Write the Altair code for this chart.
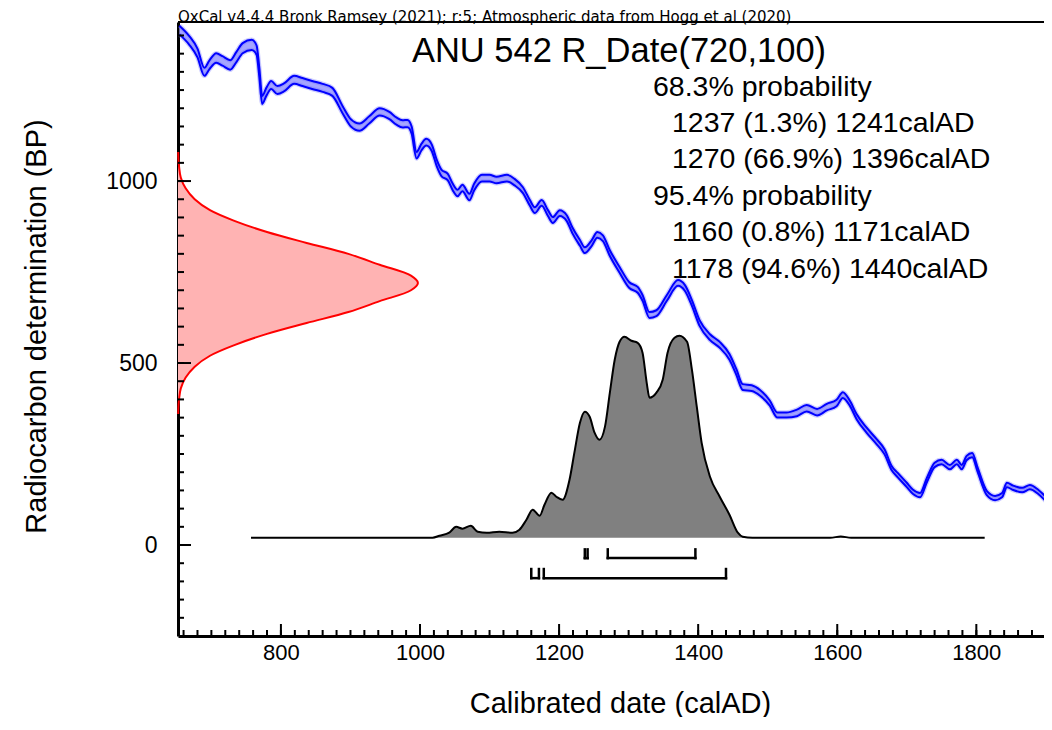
import altair as alt
import pandas as pd

FONT = "Liberation Sans"

# ---------------- data ----------------
header = "OxCal v4.4.4 Bronk Ramsey (2021); r:5; Atmospheric data from Hogg et al (2020)"
title = "ANU 542 R_Date(720,100)"
summary = [
    ("68.3% probability", 0),
    ("1237 (1.3%) 1241calAD", 1),
    ("1270 (66.9%) 1396calAD", 1),
    ("95.4% probability", 0),
    ("1160 (0.8%) 1171calAD", 1),
    ("1178 (94.6%) 1440calAD", 1),
]

x_domain = [652, 1897.3]
y_domain = [-250, 1437]
x_major = [800, 1000, 1200, 1400, 1600, 1800]
x_minor = list(range(660, 1897, 20))
y_major = [0, 500, 1000]
y_minor = list(range(-200, 1437, 50))

# calibration curve (cal AD, 14C BP, 1 sigma)
cal_year = [654, 668, 680, 690, 697, 707, 716, 727, 736, 745,
            758, 765, 769, 773, 779, 786, 795, 805, 819, 831,
            845, 860, 874, 889, 901, 913, 927, 942, 956, 966,
            975, 982, 988, 995, 1002, 1009, 1017, 1024, 1031, 1040,
            1047, 1054, 1061, 1071, 1078, 1089, 1100, 1110, 1125, 1136,
            1148, 1158, 1165, 1175, 1184, 1191, 1201, 1211, 1219, 1230,
            1237, 1247, 1255, 1263, 1273, 1287, 1301, 1313, 1320, 1330,
            1340, 1355, 1371, 1381, 1391, 1402, 1417, 1431, 1445, 1455,
            1464, 1477, 1489, 1503, 1514, 1527, 1542, 1556, 1571, 1585,
            1599, 1608, 1618, 1628, 1642, 1657, 1668, 1678, 1687, 1700,
            1709, 1719, 1729, 1740, 1750, 1762, 1772, 1779, 1786, 1794,
            1802, 1815, 1827, 1837, 1844, 1853, 1866, 1877, 1889, 1901]
cal_bp = [1415, 1387, 1352, 1300, 1319, 1338, 1330, 1319, 1341, 1365,
          1374, 1360, 1297, 1223, 1245, 1264, 1250, 1258, 1278, 1272,
          1264, 1256, 1245, 1195, 1159, 1148, 1168, 1190, 1180, 1165,
          1157, 1158, 1140, 1071, 1093, 1107, 1091, 1050, 1022, 1011,
          984, 967, 981, 956, 984, 1008, 1008, 1003, 1008, 997,
          975, 940, 920, 940, 912, 893, 912, 898, 865, 830,
          810, 830, 852, 843, 802, 756, 714, 701, 679, 632,
          637, 679, 720, 706, 665, 610, 571, 550, 517, 475,
          434, 431, 418, 390, 357, 357, 363, 376, 365, 379,
          390, 412, 390, 352, 316, 283, 256, 212, 192, 165,
          146, 137, 179, 220, 228, 214, 228, 214, 239, 247,
          206, 143, 129, 137, 165, 157, 151, 159, 146, 124]
cal_sigma = [12, 12, 12, 11, 12, 13, 13, 13, 14, 14,
             14, 13, 12, 11, 11, 11, 11, 11, 11, 11,
             11, 11, 11, 10, 10, 10, 10, 10, 10, 10,
             10, 10, 10, 9, 9, 9, 9, 9, 9, 9,
             9, 9, 9, 9, 9, 9, 9, 9, 9, 9,
             8, 8, 8, 8, 8, 8, 8, 8, 8, 8,
             8, 8, 8, 8, 8, 8, 8, 8, 8, 8,
             8, 8, 8, 8, 8, 8, 8, 8, 8, 8,
             8, 8, 8, 7, 7, 7, 9, 9, 9, 9,
             9, 8, 7, 7, 7, 7, 7, 6, 6, 6,
             6, 6, 6, 6, 6, 6, 6, 6, 6, 6,
             6, 6, 6, 6, 6, 6, 6, 6, 6, 6]

# measurement distribution on the radiocarbon axis (BP, width in cal years)
red_bp = [360, 380, 400, 430, 460, 490, 520, 550, 580, 610, 640, 670, 700, 720,
          740, 770, 800, 830, 860, 890, 920, 950, 980, 1010, 1040, 1060, 1080]
red_width = [0.3, 0.6, 1.5, 4, 11, 24, 46, 82, 128, 185, 245, 290, 335, 345,
             335, 290, 245, 185, 128, 82, 46, 24, 11, 4, 1.5, 0.6, 0.3]

# calibrated distribution (cal AD, relative probability)
post_year = [757, 1000, 1018, 1028, 1042, 1052, 1061, 1073, 1083, 1096,
             1114, 1133, 1143, 1153, 1162, 1172, 1179, 1189, 1196, 1205,
             1215, 1222, 1230, 1237, 1244, 1251, 1258, 1266, 1273, 1280,
             1287, 1294, 1304, 1313, 1320, 1326, 1330, 1340, 1349, 1356,
             1366, 1373, 1384, 1391, 1398, 1405, 1417, 1431, 1445, 1457,
             1464, 1478, 1590, 1605, 1620, 1812]
post_prob = [0, 0, 0, 0.01, 0.025, 0.054, 0.045, 0.059, 0.03, 0.025,
             0.03, 0.025, 0.04, 0.089, 0.139, 0.109, 0.163, 0.223, 0.203, 0.188,
             0.287, 0.421, 0.569, 0.624, 0.599, 0.52, 0.485, 0.55, 0.718, 0.881,
             0.97, 0.995, 0.975, 0.965, 0.916, 0.767, 0.693, 0.718, 0.782, 0.916,
             0.99, 1.0, 0.97, 0.832, 0.649, 0.47, 0.302, 0.203, 0.114, 0.025,
             0.005, 0, 0, 0.006, 0, 0]
post_base = 20      # BP level of the distribution baseline
post_scale = 555    # BP height of the maximum

# calibrated ranges
ranges_start = [1237, 1270, 1160, 1178]
ranges_end = [1241, 1396, 1171, 1440]
ranges_low = [-36, -36, -91, -91]
ranges_high = [-12, -12, -66, -66]

# ---------------- layout ----------------
W, H = 866, 614
XS = alt.Scale(domain=x_domain, nice=False, zero=False)
YS = alt.Scale(domain=y_domain, nice=False, zero=False)

AX = alt.Axis(values=x_major, format="d", ticks=False, grid=False, domain=True,
              domainColor="black", domainWidth=3, labelFont=FONT, labelFontSize=22,
              labelColor="black", labelPadding=6, labelFlush=False,
              title="Calibrated date (calAD)", titleFont=FONT, titleFontSize=29,
              titleFontWeight="normal", titleColor="black", titleX=442, titleY=76,
              titleBaseline="alphabetic")
AY = alt.Axis(values=y_major, format="d", ticks=False, grid=False, domain=True,
              domainColor="black", domainWidth=3, labelFont=FONT, labelFontSize=23,
              labelColor="black", labelPadding=21, labelFlush=False,
              title="Radiocarbon determination (BP)", titleFont=FONT, titleFontSize=29,
              titleFontWeight="normal", titleColor="black", titleX=-127, titleY=304)


def X(f):
    return alt.X(f, type="quantitative", scale=XS, axis=AX)


def Y(f):
    return alt.Y(f, type="quantitative", scale=YS, axis=AY)


curve = pd.DataFrame({"year": cal_year, "bp": cal_bp, "sig": cal_sigma})
cbase = alt.Chart(curve).transform_calculate(hi="datum.bp + datum.sig",
                                             lo="datum.bp - datum.sig")
band = cbase.mark_area(color="#a6a6ff", interpolate="monotone", clip=True).encode(
    x=X("year"), y=Y("hi"), y2="lo:Q")
glow_hi = cbase.mark_line(color="#6f6fff", strokeWidth=4.5, opacity=0.35, clip=True,
                          interpolate="monotone").encode(x=X("year"), y=Y("hi"))
glow_lo = cbase.mark_line(color="#6f6fff", strokeWidth=4.5, opacity=0.35, clip=True,
                          interpolate="monotone").encode(x=X("year"), y=Y("lo"))
line_hi = cbase.mark_line(color="#0000ff", strokeWidth=2, clip=True,
                          interpolate="monotone").encode(x=X("year"), y=Y("hi"))
line_lo = cbase.mark_line(color="#0000ff", strokeWidth=2, clip=True,
                          interpolate="monotone").encode(x=X("year"), y=Y("lo"))

red = pd.DataFrame({"bp": red_bp, "w": red_width})
rbase = alt.Chart(red).transform_calculate(xv=f"{x_domain[0]} + datum.w",
                                           x0=f"{x_domain[0]}")
red_area = rbase.mark_area(color="#ffb3b3", orient="horizontal",
                           interpolate="catmull-rom").encode(
    y=Y("bp"), x=X("xv"), x2="x0:Q")
red_line = rbase.mark_line(color="#ff0000", strokeWidth=2, orient="horizontal",
                           interpolate="catmull-rom").encode(
    y=Y("bp"), x=X("xv"), order="bp:Q")

post = pd.DataFrame({"year": post_year, "p": post_prob})
pbase = alt.Chart(post).transform_calculate(
    top=f"{post_base} + datum.p * {post_scale}", base=f"{post_base}")
post_area = pbase.mark_area(color="#808080", interpolate="monotone").encode(
    x=X("year"), y=Y("top"), y2="base:Q")
post_line = pbase.mark_line(color="black", strokeWidth=2, interpolate="monotone").encode(
    x=X("year"), y=Y("top"))

# range brackets
segs = []
for s, e, lo, hi in zip(ranges_start, ranges_end, ranges_low, ranges_high):
    segs.append({"x": s, "x2": e, "y": lo, "y2": lo})
    segs.append({"x": s, "x2": s, "y": lo, "y2": hi})
    segs.append({"x": e, "x2": e, "y": lo, "y2": hi})
brackets = alt.Chart(pd.DataFrame(segs)).mark_rule(
    color="black", strokeWidth=2.5, strokeCap="square").encode(
    x=X("x"), x2="x2:Q", y=Y("y"), y2="y2:Q")

# inward ticks
xt_minor = alt.Chart(pd.DataFrame({"v": x_minor})).mark_rule(
    color="black", strokeWidth=2).encode(x=X("v"), y=alt.value(H), y2=alt.value(H - 6))
xt_major = alt.Chart(pd.DataFrame({"v": x_major})).mark_rule(
    color="black", strokeWidth=2).encode(x=X("v"), y=alt.value(H), y2=alt.value(H - 12))
yt_minor = alt.Chart(pd.DataFrame({"v": y_minor})).mark_rule(
    color="black", strokeWidth=2).encode(y=Y("v"), x=alt.value(0), x2=alt.value(6))
yt_major = alt.Chart(pd.DataFrame({"v": y_major})).mark_rule(
    color="black", strokeWidth=2).encode(y=Y("v"), x=alt.value(0), x2=alt.value(13))
top_frame = alt.Chart(pd.DataFrame({"v": [0]})).mark_rule(
    color="black", strokeWidth=2).encode(x=alt.value(0), x2=alt.value(W), y=alt.value(0))

# texts
texts = []
texts.append(alt.Chart(pd.DataFrame({"t": [header]})).mark_text(
    align="left", baseline="alphabetic", font="DejaVu Sans", fontSize=15,
    color="black").encode(x=alt.value(0), y=alt.value(0), text="t:N"))
texts.append(alt.Chart(pd.DataFrame({"t": [title]})).mark_text(
    align="center", baseline="middle", font=FONT, fontSize=34.5, color="black").encode(
    x=alt.value(441), y=alt.value(30), text="t:N"))
for i, (t, ind) in enumerate(summary):
    texts.append(alt.Chart(pd.DataFrame({"t": [t]})).mark_text(
        align="left", baseline="middle", font=FONT, fontSize=28.5, color="black").encode(
        x=alt.value(475 + 19 * ind), y=alt.value(64.5 + 36.4 * i), text="t:N"))

chart = alt.layer(
    band, glow_hi, glow_lo, line_hi, line_lo,
    red_area, red_line,
    post_area, post_line,
    brackets,
    xt_minor, xt_major, yt_minor, yt_major, top_frame,
    *texts,
).properties(
    width=W, height=H,
    autosize=alt.AutoSizeParams(type="none"),
    padding={"left": 170, "top": 14, "right": 0, "bottom": 81},
    background="white",
).configure_view(stroke=None)

chart.save("out.html", embed_options={"renderer": "svg", "actions": False})
